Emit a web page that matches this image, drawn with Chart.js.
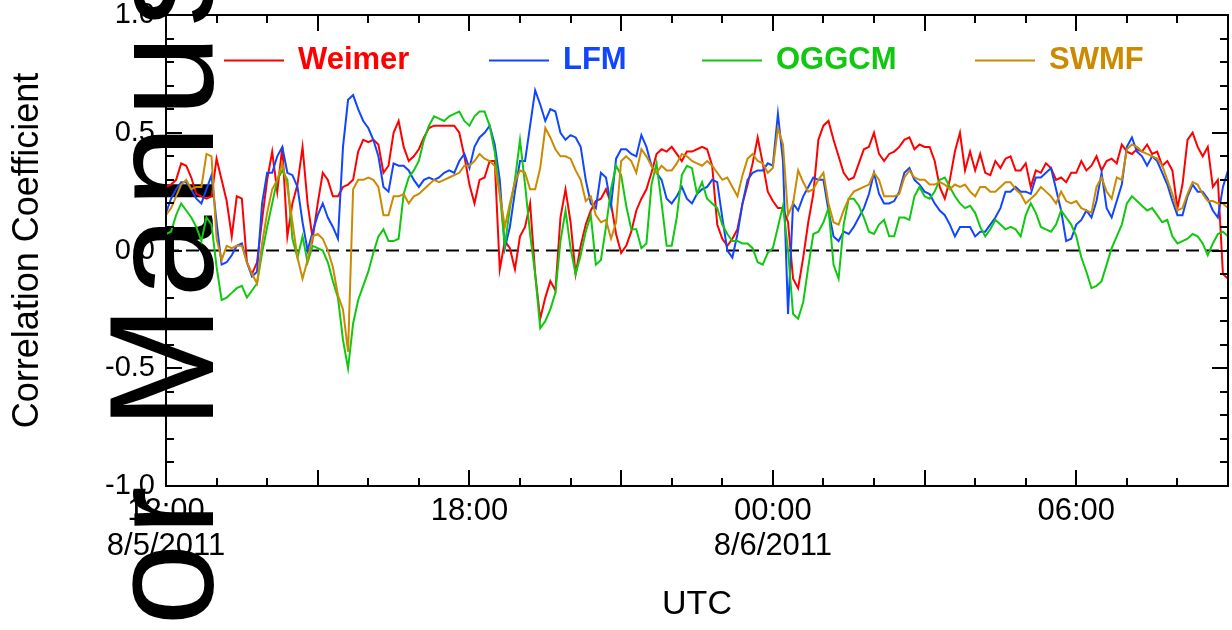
<!DOCTYPE html>
<html><head><meta charset="utf-8">
<script src="https://cdn.jsdelivr.net/npm/chart.js@4.4.1/dist/chart.umd.min.js"></script>
<style>html,body{margin:0;padding:0;background:#fff;overflow:hidden}</style>
</head><body>
<canvas id="c" width="1232" height="630" style="width:1232px;height:630px;display:block"></canvas>
<script>
// ---- data: hours after 12:00 UTC 8/5/2011, 6-minute samples ----
const times = Array.from({length: 211}, (_, i) => +(i * 0.1).toFixed(1));
const seriesNames = ['Weimer', 'LFM', 'OGGCM', 'SWMF'];
const seriesColors = ['#ff0000', '#1146ff', '#11c811', '#cc8a00'];
const weimer = [
 0.27,0.28,0.3,0.37,0.36,0.31,0.24,0.23,0.22,0.23,
 0.39,0.3,0.21,0.06,0.23,0.22,-0.05,-0.1,-0.05,0.13,
 0.3,0.42,0.25,0.44,0.06,0.2,0.28,0.44,0.2,0.05,
 0.2,0.33,0.3,0.23,0.23,0.27,0.28,0.3,0.42,0.47,
 0.46,0.47,0.45,0.33,0.36,0.5,0.55,0.44,0.38,0.4,
 0.43,0.48,0.52,0.53,0.53,0.53,0.53,0.53,0.5,0.4,
 0.28,0.2,0.3,0.31,0.38,0.38,-0.08,0.04,0.01,-0.08,
 0.06,0.1,0.2,-0.1,-0.29,-0.2,-0.13,-0.17,0.14,0.26,
 0.12,-0.1,0.02,0.11,0.17,0.21,0.22,0.26,0.2,0.07,
 -0.01,0.02,0.08,0.17,0.22,0.26,0.33,0.41,0.43,0.42,
 0.44,0.41,0.38,0.42,0.42,0.43,0.44,0.43,0.36,0.11,
 0.05,0.02,0.05,0.09,0.2,0.28,0.37,0.48,0.37,0.25,
 0.21,0.18,0.18,0.12,-0.12,-0.16,-0.03,0.12,0.24,0.47,
 0.53,0.55,0.47,0.4,0.33,0.3,0.31,0.37,0.43,0.44,
 0.5,0.41,0.38,0.41,0.42,0.44,0.47,0.48,0.43,0.45,
 0.44,0.44,0.38,0.27,0.22,0.3,0.42,0.5,0.34,0.42,
 0.34,0.41,0.33,0.32,0.38,0.35,0.39,0.4,0.34,0.34,
 0.37,0.27,0.34,0.33,0.37,0.35,0.3,0.31,0.29,0.33,
 0.33,0.38,0.34,0.36,0.4,0.34,0.38,0.39,0.37,0.45,
 0.42,0.41,0.43,0.42,0.45,0.41,0.42,0.36,0.38,0.34,
 0.18,0.28,0.47,0.5,0.44,0.4,0.44,0.27,0.3,-0.1,
 -0.12];
const lfm = [
 0.16,0.22,0.26,0.29,0.29,0.26,0.22,0.2,0.26,0.32,
 0.12,-0.06,-0.05,-0.02,0.02,0.03,-0.05,-0.11,-0.09,0.2,
 0.33,0.33,0.4,0.44,0.33,0.32,0.27,0.12,0.0,0.08,
 0.15,0.2,0.14,0.1,0.05,0.44,0.64,0.66,0.6,0.55,
 0.52,0.47,0.4,0.27,0.25,0.37,0.36,0.36,0.34,0.3,
 0.27,0.3,0.31,0.3,0.31,0.33,0.34,0.33,0.38,0.41,
 0.35,0.44,0.48,0.5,0.53,0.45,0.3,0.01,0.1,0.25,
 0.38,0.38,0.53,0.68,0.62,0.55,0.6,0.59,0.5,0.47,
 0.49,0.48,0.44,0.3,0.2,0.18,0.33,0.31,0.19,0.39,
 0.43,0.43,0.41,0.4,0.49,0.44,0.36,0.33,0.3,0.22,
 0.2,0.23,0.27,0.22,0.2,0.24,0.26,0.27,0.3,0.29,
 0.14,0.0,-0.03,0.07,0.2,0.3,0.33,0.34,0.34,0.37,
 0.36,0.58,0.38,-0.27,0.2,0.17,0.23,0.27,0.31,0.3,
 0.3,0.17,0.06,0.04,0.08,0.07,0.1,0.14,0.18,0.24,
 0.33,0.24,0.2,0.2,0.21,0.25,0.33,0.35,0.3,0.28,
 0.25,0.24,0.2,0.17,0.15,0.11,0.06,0.1,0.1,0.1,
 0.06,0.08,0.08,0.11,0.14,0.18,0.25,0.25,0.27,0.25,
 0.25,0.24,0.31,0.31,0.33,0.35,0.26,0.17,0.04,0.05,
 0.11,0.13,0.17,0.14,0.21,0.33,0.18,0.14,0.21,0.28,
 0.44,0.48,0.42,0.4,0.36,0.4,0.38,0.33,0.28,0.21,
 0.15,0.15,0.23,0.28,0.25,0.25,0.22,0.17,0.14,0.27,
 0.34];
const oggcm = [
 0.07,0.08,0.15,0.2,0.17,0.14,0.1,0.04,0.14,0.11,
 -0.07,-0.21,-0.2,-0.18,-0.16,-0.15,-0.2,-0.17,-0.14,-0.01,
 0.1,0.2,0.3,0.34,0.3,0.05,-0.03,0.06,-0.05,0.02,
 0.01,0.0,-0.05,-0.13,-0.2,-0.38,-0.5,-0.31,-0.21,-0.15,
 -0.09,-0.01,0.06,0.09,0.04,0.04,0.05,0.24,0.31,0.34,
 0.38,0.47,0.53,0.57,0.56,0.55,0.57,0.58,0.59,0.55,
 0.53,0.57,0.59,0.59,0.53,0.42,0.24,0.02,0.18,0.3,
 0.47,0.28,0.07,-0.1,-0.33,-0.3,-0.25,-0.18,0.04,0.17,
 0.01,-0.1,-0.02,0.08,0.15,-0.06,-0.04,0.1,0.26,0.36,
 0.32,0.19,0.09,0.09,0.01,0.03,0.28,0.37,0.2,0.02,
 0.02,0.14,0.32,0.36,0.35,0.24,0.29,0.22,0.2,0.18,
 0.11,0.07,0.04,0.04,0.03,0.03,0.01,-0.05,-0.06,-0.01,
 0.01,0.1,0.19,0.0,-0.27,-0.29,-0.22,-0.07,0.07,0.08,
 0.12,0.18,-0.06,-0.12,0.11,0.22,0.22,0.19,0.14,0.08,
 0.07,0.11,0.13,0.06,0.06,0.14,0.14,0.13,0.23,0.27,
 0.23,0.22,0.25,0.3,0.31,0.27,0.23,0.2,0.18,0.19,
 0.16,0.1,0.06,0.09,0.13,0.11,0.09,0.1,0.09,0.06,
 0.15,0.2,0.16,0.1,0.09,0.08,0.11,0.17,0.14,0.11,
 0.06,-0.03,-0.09,-0.16,-0.15,-0.13,-0.06,0.01,0.06,0.11,
 0.2,0.23,0.21,0.19,0.17,0.18,0.15,0.12,0.13,0.06,
 0.03,0.04,0.05,0.07,0.06,0.03,-0.02,0.03,0.07,0.08,
 0.06];
const swmf = [
 0.15,0.18,0.23,0.28,0.3,0.26,0.27,0.27,0.41,0.4,
 0.05,-0.04,0.02,0.01,0.02,0.02,-0.05,-0.1,-0.14,0.03,
 0.16,0.26,0.3,0.37,0.27,0.12,-0.03,-0.12,-0.04,0.06,
 0.07,0.05,0.0,-0.07,-0.19,-0.25,-0.43,0.26,0.3,0.3,
 0.31,0.3,0.27,0.15,0.15,0.23,0.23,0.24,0.2,0.23,
 0.24,0.26,0.28,0.3,0.29,0.3,0.31,0.32,0.33,0.36,
 0.36,0.38,0.41,0.39,0.38,0.36,0.24,0.1,0.2,0.29,
 0.34,0.33,0.26,0.26,0.35,0.52,0.48,0.43,0.4,0.4,
 0.39,0.34,0.3,0.21,0.23,0.15,0.12,0.13,0.05,0.12,
 0.38,0.4,0.38,0.33,0.43,0.4,0.36,0.33,0.36,0.34,
 0.34,0.37,0.41,0.4,0.38,0.37,0.36,0.38,0.36,0.33,
 0.3,0.31,0.27,0.23,0.32,0.39,0.41,0.38,0.37,0.33,
 0.35,0.52,0.45,0.15,0.2,0.34,0.29,0.25,0.26,0.3,
 0.33,0.2,0.12,0.11,0.17,0.22,0.25,0.26,0.27,0.28,
 0.33,0.3,0.23,0.23,0.23,0.24,0.31,0.34,0.31,0.3,
 0.3,0.28,0.28,0.29,0.28,0.26,0.28,0.27,0.28,0.25,
 0.23,0.27,0.27,0.25,0.25,0.27,0.29,0.29,0.26,0.24,
 0.2,0.22,0.24,0.27,0.25,0.23,0.2,0.25,0.21,0.2,
 0.21,0.18,0.17,0.16,0.27,0.31,0.25,0.22,0.31,0.3,
 0.43,0.45,0.44,0.42,0.41,0.4,0.39,0.36,0.3,0.24,
 0.17,0.18,0.24,0.29,0.28,0.24,0.21,0.21,0.2,0.2,
 0.18];
const xTickHours = [0, 6, 12, 18];
const xTickLabels = [['12:00', '8/5/2011'], '18:00', ['00:00', '8/6/2011'], '06:00'];
const yTickValues = [-1, -0.5, 0, 0.5, 1];
const yTickLabels = ['-1.0', '-0.5', '0.0', '0.5', '1.0'];

const SANS = '"Liberation Sans", Arial, sans-serif';
const allSeries = [weimer, lfm, oggcm, swmf];

const watermark = {
  id: 'watermark',
  beforeDraw(chart) {
    const ctx = chart.ctx;
    ctx.save();
    ctx.fillStyle = '#fff';
    ctx.fillRect(0, 0, chart.width, chart.height);
    ctx.translate(213, 429);
    ctx.rotate(-Math.PI / 2);
    ctx.font = '148px ' + SANS;
    ctx.fillStyle = '#000';
    ctx.textBaseline = 'alphabetic';
    if ('letterSpacing' in ctx) ctx.letterSpacing = '8px';
    ctx.textAlign = 'left';
    ctx.fillText('Manuscript', 0, 0);
    ctx.textAlign = 'right';
    ctx.fillText('Author ', 0, 0);
    ctx.restore();
  }
};

const zeroLine = {
  id: 'zeroLine',
  beforeDatasetsDraw(chart) {
    const {ctx, chartArea: a, scales: {y}} = chart;
    const py = y.getPixelForValue(0);
    ctx.save();
    ctx.strokeStyle = '#000';
    ctx.lineWidth = 2;
    ctx.setLineDash([13, 7]);
    ctx.beginPath();
    ctx.moveTo(a.left, py);
    ctx.lineTo(a.right, py);
    ctx.stroke();
    ctx.restore();
  }
};

const frame = {
  id: 'frame',
  afterDatasetsDraw(chart) {
    const {ctx, chartArea: a, scales: {x, y}} = chart;
    ctx.save();
    ctx.strokeStyle = '#000';
    ctx.lineWidth = 2;
    ctx.strokeRect(a.left, a.top, a.right - a.left, a.bottom - a.top);
    ctx.beginPath();
    for (let h = 1; h < 21; h++) {
      const px = Math.round(x.getPixelForValue(h));
      const len = h % 3 === 0 ? 16 : 8;
      ctx.moveTo(px, a.bottom); ctx.lineTo(px, a.bottom - len);
      ctx.moveTo(px, a.top); ctx.lineTo(px, a.top + len);
    }
    for (let i = -9; i <= 9; i++) {
      const py = Math.round(y.getPixelForValue(i / 10));
      const len = i % 5 === 0 ? 16 : 8;
      ctx.moveTo(a.left, py); ctx.lineTo(a.left + len, py);
      ctx.moveTo(a.right, py); ctx.lineTo(a.right - len, py);
    }
    ctx.stroke();
    // legend
    const lx = [224, 489, 702, 975];
    ctx.font = 'bold 31px ' + SANS;
    ctx.textBaseline = 'middle';
    ctx.textAlign = 'left';
    seriesNames.forEach((n, i) => {
      ctx.strokeStyle = seriesColors[i];
      ctx.beginPath();
      ctx.moveTo(lx[i], 60.5); ctx.lineTo(lx[i] + 60, 60.5);
      ctx.stroke();
      ctx.fillStyle = seriesColors[i];
      ctx.fillText(n, lx[i] + 74, 60);
    });
    ctx.restore();
  }
};

new Chart(document.getElementById('c'), {
  type: 'line',
  data: {
    labels: times,
    datasets: seriesNames.map((n, i) => ({
      label: n,
      data: times.map((t, k) => ({x: t, y: allSeries[i][k]})),
      borderColor: seriesColors[i],
      borderWidth: 2,
      pointRadius: 0,
      tension: 0,
      fill: false,
      order: 3 - i
    }))
  },
  options: {
    responsive: false,
    animation: false,
    devicePixelRatio: 1,
    layout: {padding: {left: 0, right: 4, top: 15, bottom: 0}},
    plugins: {legend: {display: false}, tooltip: {enabled: false}},
    scales: {
      x: {
        type: 'linear', min: 0, max: 21,
        afterBuildTicks: s => { s.ticks = xTickHours.map(v => ({value: v})); },
        ticks: {
          autoSkip: false, maxRotation: 0, minRotation: 0, padding: 8, color: '#000',
          font: {family: SANS, size: 31, lineHeight: '35px'},
          callback: v => { const i = xTickHours.indexOf(v); return i >= 0 ? xTickLabels[i] : ''; }
        },
        grid: {display: false, drawTicks: false},
        border: {display: false},
        title: {display: true, text: 'UTC', color: '#000', font: {family: SANS, size: 34, lineHeight: 1}, padding: {top: 0, bottom: 8}},
        afterFit: s => { s.height = 144; s.paddingLeft = 0; s.paddingRight = 0; }
      },
      y: {
        min: -1, max: 1,
        afterBuildTicks: s => { s.ticks = yTickValues.map(v => ({value: v})); },
        ticks: {
          padding: 11, color: '#000', font: {family: SANS, size: 29},
          callback: v => { const i = yTickValues.indexOf(v); return i >= 0 ? yTickLabels[i] : ''; }
        },
        grid: {display: false, drawTicks: false},
        border: {display: false},
        title: {display: true, text: 'Correlation Coefficient', color: '#000', font: {family: SANS, size: 36, lineHeight: 1.2}, padding: {top: 6, bottom: 0}},
        afterFit: s => { s.width = 166; s.paddingTop = 0; s.paddingBottom = 0; }
      }
    }
  },
  plugins: [watermark, zeroLine, frame]
});
</script>
</body></html>
